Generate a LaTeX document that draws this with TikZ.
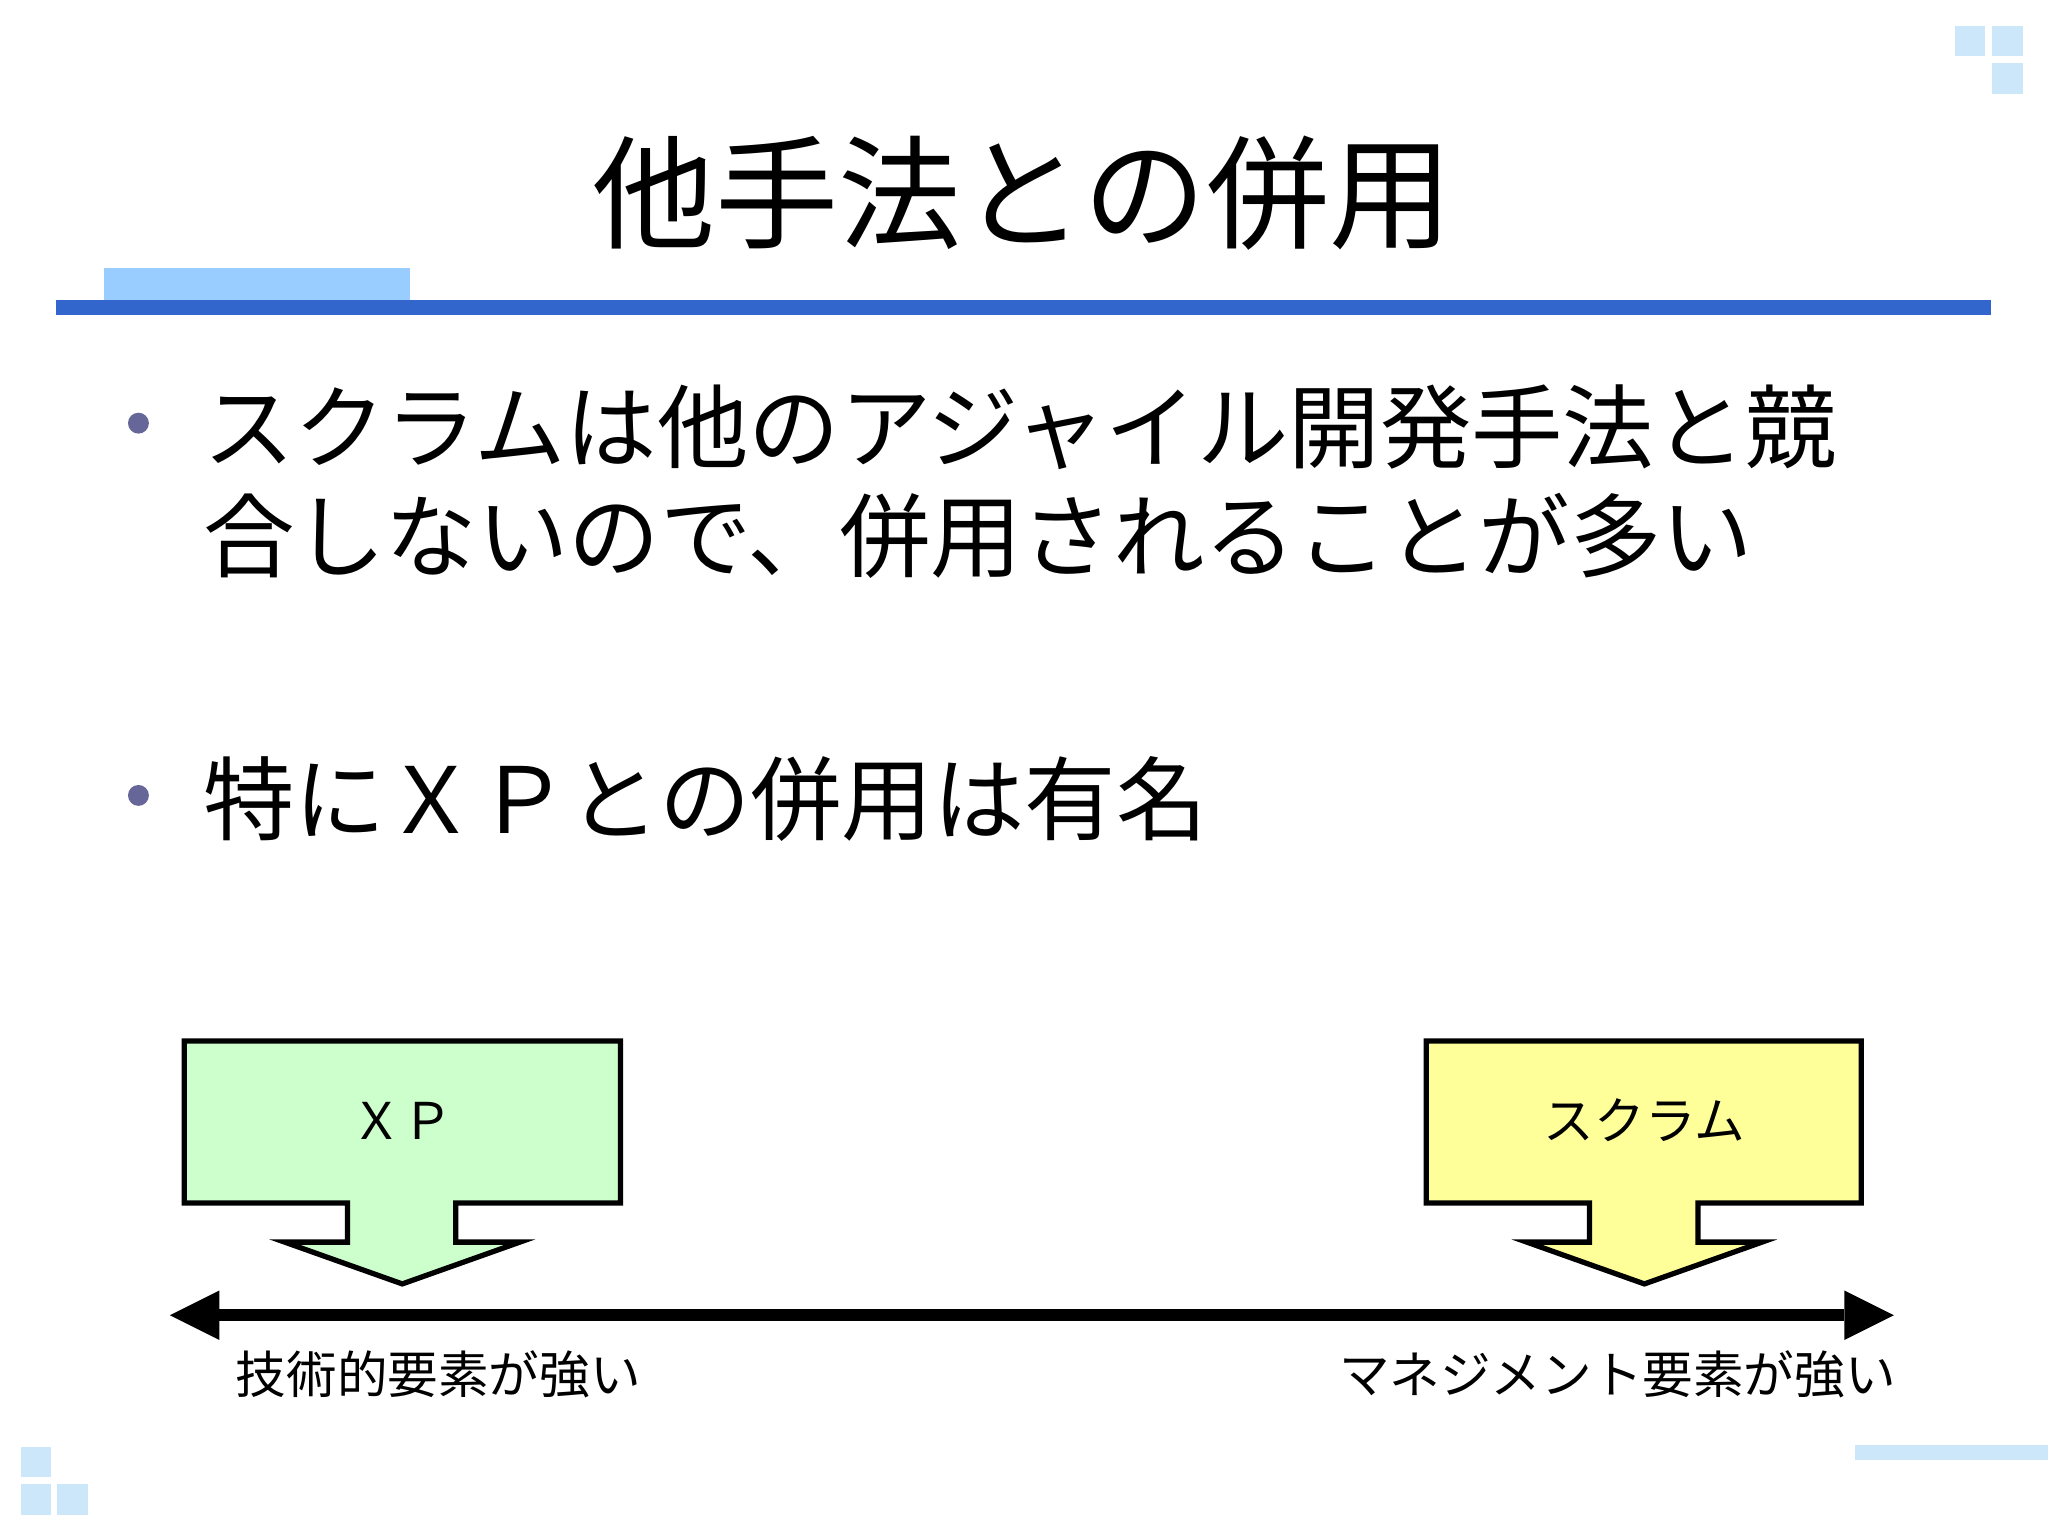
\documentclass[tikz,border=0pt]{standalone}
\usepackage{fontspec}
\setmainfont{Noto Sans CJK JP}
\begin{document}
\begin{tikzpicture}[x=0.01306cm,y=-0.01306cm,
  sq/.style={fill=sqc,draw=none},
  lbl/.style={font=\fontsize{14.4}{17}\selectfont,inner sep=0},
  bul/.style={font=\fontsize{26}{31}\selectfont,anchor=west,inner sep=0,align=left}]
\definecolor{sqc}{HTML}{CCE6FA}
\definecolor{lb}{HTML}{99CCFF}
\definecolor{db}{HTML}{3366CC}
\definecolor{bd}{HTML}{666699}
\definecolor{gf}{HTML}{CCFFCC}
\definecolor{yf}{HTML}{FFFF99}
\useasboundingbox[fill=white] (0,0) rectangle (1568,1176);
% corner squares
\fill[sq] (1497,20) rectangle (1520,43);
\fill[sq] (1525,20) rectangle (1549,43);
\fill[sq] (1525,48) rectangle (1549,72);
\fill[sq] (16,1108) rectangle (39,1131);
\fill[sq] (16,1136) rectangle (39,1160);
\fill[sq] (44,1136) rectangle (67,1160);
\fill[sq] (1420,1106) rectangle (1568,1118);
% title
\node[font=\fontsize{35}{40}\selectfont,inner sep=0] (title) at (783,148) {他手法との併用};
\fill[lb] (80,205) rectangle (314,230);
\fill[db] (43,230) rectangle (1524,241);
% bullets
\fill[bd] (106,324) circle (8);
\fill[bd] (106,609) circle (8);
\node[bul] (b1) at (155,369) {スクラムは他のアジャイル開発手法と競\\合しないので、併用されることが多い};
\node[bul] (b2) at (155,612) {特にＸＰとの併用は有名};
% arrow boxes
\draw[fill=gf,line width=1.5pt] (141,797) -- (475,797) -- (475,921) -- (349,921) -- (349,951) -- (398,951) -- (308,983) -- (218,951) -- (266,951) -- (266,921) -- (141,921) -- cycle;
\draw[fill=yf,line width=1.5pt] (1092,797) -- (1425,797) -- (1425,921) -- (1300,921) -- (1300,951) -- (1349,951) -- (1259,983) -- (1169,951) -- (1217,951) -- (1217,921) -- (1092,921) -- cycle;
\node[lbl] (xp) at (308,858) {ＸＰ};
\node[lbl] (sc) at (1259,858) {スクラム};
% axis
\coordinate (L) at (168,1007);
\coordinate (R) at (1412,1007);
\draw[line width=3.5pt] (L) -- (R);
\fill (130,1007) -- (168,988) -- (168,1026) -- cycle;
\fill (1450,1007) -- (1412,988) -- (1412,1026) -- cycle;
\node[lbl,anchor=west] (tl) at (180,1052) {技術的要素が強い};
\node[lbl,anchor=east] (tr) at (1452,1052) {マネジメント要素が強い};
\end{tikzpicture}
\end{document}
